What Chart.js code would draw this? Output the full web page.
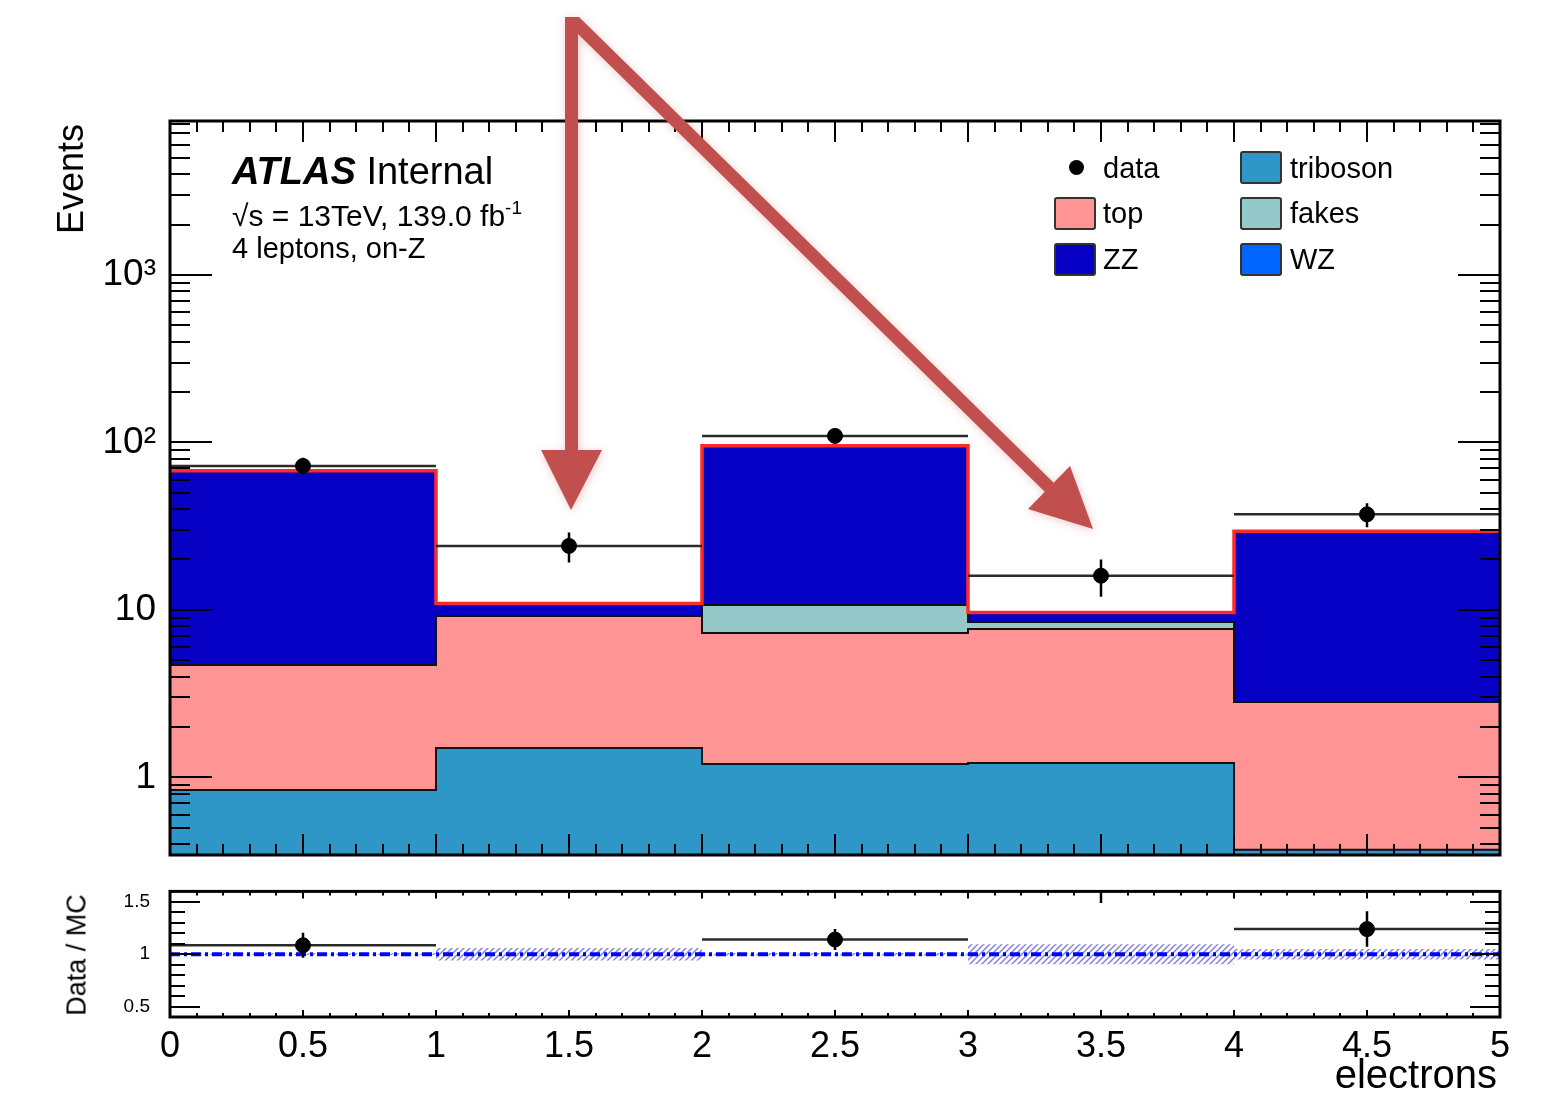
<!DOCTYPE html>
<html>
<head>
<meta charset="utf-8">
<script src="https://cdn.jsdelivr.net/npm/chart.js@4.4.0/dist/chart.umd.min.js"></script>
<style>
  html, body { margin: 0; padding: 0; background: #fff; }
  #wrap { position: relative; width: 1542px; height: 1098px; overflow: hidden;
          font-family: "Liberation Sans", Arial, Helvetica, sans-serif; color: #000; }
  canvas { position: absolute; left: 0; }
  #mainChart { top: 0; }
  #ratioChart { top: 860px; }
  .t { position: absolute; white-space: nowrap; line-height: 1; }
  .rot { transform: translate(-50%, -50%) rotate(-90deg); }
  .box { position: absolute; width: 38px; height: 29px; border: 2px solid #333; border-radius: 3px; }
  .lt { position: absolute; font-size: 29px; line-height: 34px; height: 34px; white-space: nowrap; }
  svg { position: absolute; left: 0; top: 0; }
</style>
</head>
<body>
<div id="wrap">
  <canvas id="mainChart" width="1542" height="900"></canvas>
  <canvas id="ratioChart" width="1542" height="238"></canvas>

  <!-- ATLAS label -->
  <div class="t" style="left:232px; top:152px; font-size:38px;"><b><i>ATLAS</i></b> Internal</div>
  <div class="t" style="left:232px; top:198px; font-size:30px;">&radic;s = 13TeV, 139.0 fb<sup style="font-size:19px; vertical-align:12px;">-1</sup></div>
  <div class="t" style="left:232px; top:234px; font-size:29px;">4 leptons, on-Z</div>

  <!-- legend -->
  <div style="position:absolute; left:1069px; top:160px; width:15px; height:15px; border-radius:50%; background:#000;"></div>
  <div class="lt" style="left:1103px; top:151px;">data</div>
  <div class="box" style="left:1054px; top:197px; background:#ff9494;"></div>
  <div class="lt" style="left:1103px; top:196px;">top</div>
  <div class="box" style="left:1054px; top:243px; background:#0500c3;"></div>
  <div class="lt" style="left:1103px; top:242px;">ZZ</div>
  <div class="box" style="left:1240px; top:151px; background:#2f97c7;"></div>
  <div class="lt" style="left:1290px; top:151px;">triboson</div>
  <div class="box" style="left:1240px; top:197px; background:#95c8c8;"></div>
  <div class="lt" style="left:1290px; top:196px;">fakes</div>
  <div class="box" style="left:1240px; top:243px; background:#0066ff;"></div>
  <div class="lt" style="left:1290px; top:242px;">WZ</div>

  <!-- axis titles -->
  <div class="t rot" style="left:71px; top:179px; font-size:36px;">Events</div>
  <div class="t rot" style="left:77px; top:955px; font-size:27px;">Data / MC</div>
  <div class="t" style="right:45px; top:1054px; font-size:40px;">electrons</div>

  <!-- annotation arrows -->
  <svg width="1542" height="1098" viewBox="0 0 1542 1098">
    <defs>
      <filter id="sh" x="-10%" y="-10%" width="120%" height="120%">
        <feDropShadow dx="1" dy="2" stdDeviation="4" flood-color="#c0504d" flood-opacity="0.3"/>
      </filter>
    </defs>
    <g fill="#c0504d" filter="url(#sh)">
      <polygon points="565,17 578,17 578,452 565,452"/>
      <polygon points="541,450 602,450 571,510"/>
      <polygon points="566,17 579,17 1054,483 1045,492 578,34 566,34"/>
      <polygon points="1028,509 1070,466 1093,529"/>
    </g>
  </svg>
</div>

<script>
// bin layout
const binEdges = [0, 1, 2, 3, 4, 5];
const binCentres = [0.5, 1.5, 2.5, 3.5, 4.5];

// background processes per bin
const triboson = [0.84, 1.50, 1.20, 1.22, 0.37];
const topQuark = [3.85, 7.71, 6.09, 6.48, 2.45];
const fakes = [0, 0, 3.41, 0.78, 0];
const zz = [62.9, 1.65, 84.6, 1.12, 26.6];
const wz = [0.1, 0.05, 0.1, 0.05, 0.05];

// data
const dataCounts = [72.4, 24.1, 109.4, 16.0, 37.2];
const dataErrors = [8.5, 4.9, 10.5, 4.0, 6.1];

// ratio panel
const ratioValues = [1.085, 2.2, 1.14, 1.75, 1.24];
const ratioErrors = [0.12, 0.45, 0.10, 0.26, 0.17];
const mcRelUnc = [0.008, 0.06, 0.012, 0.095, 0.05];
const ratioRef = [1, 1];

// tick labels
const xTicks = [0, 0.5, 1, 1.5, 2, 2.5, 3, 3.5, 4, 4.5, 5];
const mainYTicks = [1, 10, 100, 1000];
const mainYLabels = ["1", "10", "10\u00b2", "10\u00b3"];
const ratioYTicks = [0.5, 1, 1.5];
const ratioYLabels = ["0.5", "1", "1.5"];

const procNames = ["triboson", "top", "fakes", "ZZ", "WZ"];
const procColors = ["#2f97c7", "#ff9494", "#95c8c8", "#0500c3", "#0066ff"];

const FONT = "'Liberation Sans', Arial, Helvetica, sans-serif";

// histogram as a stepped line: one point per lower edge plus the last edge
function stepPoints(vals) {
  const pts = vals.map((v, i) => ({ x: binEdges[i], y: v }));
  pts.push({ x: binEdges[binEdges.length - 1], y: vals[vals.length - 1] });
  return pts;
}

// horizontal bars across each bin, broken by nulls
function binBars(vals) {
  const pts = [];
  vals.forEach((v, i) => {
    pts.push({ x: binEdges[i], y: v }, { x: binEdges[i + 1], y: v }, { x: binEdges[i + 1], y: null });
  });
  return pts;
}

// vertical error bars at the bin centres
function errBars(vals, errs) {
  const pts = [];
  vals.forEach((v, i) => {
    pts.push({ x: binCentres[i], y: v - errs[i] }, { x: binCentres[i], y: v + errs[i] }, { x: binCentres[i], y: null });
  });
  return pts;
}

function hatch(color) {
  const c = document.createElement("canvas");
  c.width = 6; c.height = 6;
  const g = c.getContext("2d");
  g.strokeStyle = color;
  g.lineWidth = 1.4;
  g.beginPath();
  g.moveTo(0, 6); g.lineTo(6, 0);
  g.moveTo(-1, 1); g.lineTo(1, -1);
  g.moveTo(5, 7); g.lineTo(7, 5);
  g.stroke();
  return g.createPattern(c, "repeat");
}

// minor tick positions
function range(from, to, step) {
  const out = [];
  for (let i = Math.round(from / step); i <= Math.round(to / step); i++) out.push(+(i * step).toFixed(4));
  return out;
}
const xMinor = range(0, 5, 0.1).filter(v => !xTicks.includes(v));
const logMinor = [];
[0.1, 1, 10, 100, 1000].forEach(dec => {
  for (let k = 2; k <= 9; k++) logMinor.push(+(dec * k).toFixed(4));
});
const ratioMinor = range(0.4, 1.6, 0.1).filter(v => !ratioYTicks.includes(v));

// ROOT-like frame with inward ticks on all four sides
const frameTicks = {
  id: "frameTicks",
  afterDraw(chart, args, o) {
    const { ctx, chartArea: a, scales } = chart;
    const xs = scales.x, ys = scales.y;
    ctx.save();
    ctx.strokeStyle = "#000";
    ctx.lineWidth = 2;
    ctx.beginPath();
    const xt = (v, len) => {
      const px = Math.round(xs.getPixelForValue(v));
      ctx.moveTo(px, a.bottom); ctx.lineTo(px, a.bottom - len);
      ctx.moveTo(px, a.top); ctx.lineTo(px, a.top + len);
    };
    const yt = (v, len) => {
      if (v < ys.min || v > ys.max) return;
      const py = Math.round(ys.getPixelForValue(v));
      ctx.moveTo(a.left, py); ctx.lineTo(a.left + len, py);
      ctx.moveTo(a.right, py); ctx.lineTo(a.right - len, py);
    };
    o.xMajor.forEach(v => xt(v, o.xMajLen));
    o.xMinor.forEach(v => xt(v, o.xMinLen));
    o.yMajor.forEach(v => yt(v, o.yMajLen));
    o.yMinor.forEach(v => yt(v, o.yMinLen));
    ctx.stroke();
    ctx.lineWidth = 3;
    ctx.strokeRect(a.left, a.top, a.right - a.left, a.bottom - a.top);
    ctx.restore();
  }
};

// ----- main stacked plot -----
let running = binCentres.map(() => 0);
const stacked = [triboson, topQuark, fakes, zz, wz].map(arr => {
  running = running.map((r, i) => r + arr[i]);
  return running;
});
const totalMC = stacked[stacked.length - 1];

const mainSets = stacked.map((vals, k) => ({
  label: procNames[k],
  data: stepPoints(vals),
  stepped: true,
  fill: k === 0 ? "start" : "-1",
  backgroundColor: procColors[k],
  borderColor: "#111",
  borderWidth: k === stacked.length - 1 ? 0 : 2,
  pointRadius: 0,
  order: 5
}));

mainSets.push({
  label: "total",
  data: stepPoints(totalMC),
  stepped: true,
  fill: false,
  borderColor: "#ff2a2a",
  borderWidth: 3.5,
  pointRadius: 0,
  order: 3
});
mainSets.push({
  label: "data x",
  data: binBars(dataCounts),
  fill: false,
  borderColor: "#2b2b2b",
  borderWidth: 2.5,
  pointRadius: 0,
  order: 2
});
mainSets.push({
  label: "data err",
  data: errBars(dataCounts, dataErrors),
  fill: false,
  borderColor: "#000",
  borderWidth: 2.5,
  pointRadius: 0,
  order: 1
});
mainSets.push({
  label: "data",
  data: dataCounts.map((v, i) => ({ x: binCentres[i], y: v })),
  showLine: false,
  pointRadius: 7.5,
  pointBackgroundColor: "#000",
  pointBorderColor: "#000",
  order: 0
});

new Chart(document.getElementById("mainChart"), {
  type: "line",
  data: { datasets: mainSets },
  options: {
    responsive: false,
    animation: false,
    events: [],
    layout: { padding: { top: 121, right: 42, bottom: 45, left: 0 } },
    plugins: {
      legend: { display: false },
      tooltip: { enabled: false },
      filler: { propagate: false, drawTime: "beforeDatasetsDraw" },
      frameTicks: {
        xMajor: xTicks, xMinor: xMinor, yMajor: mainYTicks, yMinor: logMinor,
        xMajLen: 21, xMinLen: 11, yMajLen: 42, yMinLen: 20
      }
    },
    scales: {
      x: { type: "linear", min: 0, max: 5, display: false },
      y: {
        type: "logarithmic",
        min: 0.344,
        max: 8300,
        bounds: "data",
        afterFit: s => { s.width = 170; },
        afterBuildTicks: s => { s.ticks = mainYTicks.map(v => ({ value: v })); },
        grid: { display: false, drawTicks: false },
        border: { display: false },
        ticks: {
          autoSkip: false,
          padding: 14,
          color: "#000",
          font: { family: FONT, size: 37 },
          callback: v => mainYLabels[mainYTicks.indexOf(v)]
        }
      }
    }
  },
  plugins: [frameTicks]
});

// ----- ratio panel -----
const bandPattern = hatch("rgba(80, 80, 200, 0.75)");
const ratioSets = [
  {
    label: "unc lo",
    data: stepPoints(mcRelUnc.map(u => 1 - u)),
    stepped: true, fill: false, borderWidth: 0, pointRadius: 0, order: 4
  },
  {
    label: "unc hi",
    data: stepPoints(mcRelUnc.map(u => 1 + u)),
    stepped: true, fill: "-1", backgroundColor: bandPattern, borderWidth: 0, pointRadius: 0, order: 4
  },
  {
    label: "ref",
    data: ratioRef.map((v, i) => ({ x: binEdges[i * (binEdges.length - 1)], y: v })),
    fill: false, borderColor: "#0000ff", borderWidth: 4, borderDash: [10, 4, 3, 4], pointRadius: 0, order: 3
  },
  {
    label: "ratio x",
    data: binBars(ratioValues),
    fill: false, borderColor: "#2b2b2b", borderWidth: 2.5, pointRadius: 0, order: 2
  },
  {
    label: "ratio err",
    data: errBars(ratioValues, ratioErrors),
    fill: false, borderColor: "#000", borderWidth: 2.5, pointRadius: 0, order: 1
  },
  {
    label: "ratio",
    data: ratioValues.map((v, i) => ({ x: binCentres[i], y: v })),
    showLine: false, pointRadius: 7.5, pointBackgroundColor: "#000", pointBorderColor: "#000", order: 0
  }
];

new Chart(document.getElementById("ratioChart"), {
  type: "line",
  data: { datasets: ratioSets },
  options: {
    responsive: false,
    animation: false,
    events: [],
    layout: { padding: { top: 30, right: 42, bottom: 0, left: 0 } },
    plugins: {
      legend: { display: false },
      tooltip: { enabled: false },
      filler: { propagate: false, drawTime: "beforeDatasetsDraw" },
      frameTicks: {
        xMajor: xTicks, xMinor: xMinor, yMajor: ratioYTicks, yMinor: ratioMinor,
        xMajLen: 7, xMinLen: 4, yMajLen: 30, yMinLen: 15
      }
    },
    scales: {
      x: {
        type: "linear", min: 0, max: 5,
        afterFit: s => { s.height = 81; },
        afterBuildTicks: s => { s.ticks = xTicks.map(v => ({ value: v })); },
        grid: { display: false, drawTicks: false },
        border: { display: false },
        ticks: {
          autoSkip: false, maxRotation: 0, padding: 8, color: "#000",
          font: { family: FONT, size: 36 },
          callback: v => String(v)
        }
      },
      y: {
        type: "linear", min: 0.4, max: 1.6,
        afterFit: s => { s.width = 170; },
        afterBuildTicks: s => { s.ticks = ratioYTicks.map(v => ({ value: v })); },
        grid: { display: false, drawTicks: false },
        border: { display: false },
        ticks: {
          autoSkip: false, padding: 20, color: "#000",
          font: { family: FONT, size: 19 },
          callback: v => ratioYLabels[ratioYTicks.indexOf(v)]
        }
      }
    }
  },
  plugins: [frameTicks]
});
</script>
</body>
</html>
